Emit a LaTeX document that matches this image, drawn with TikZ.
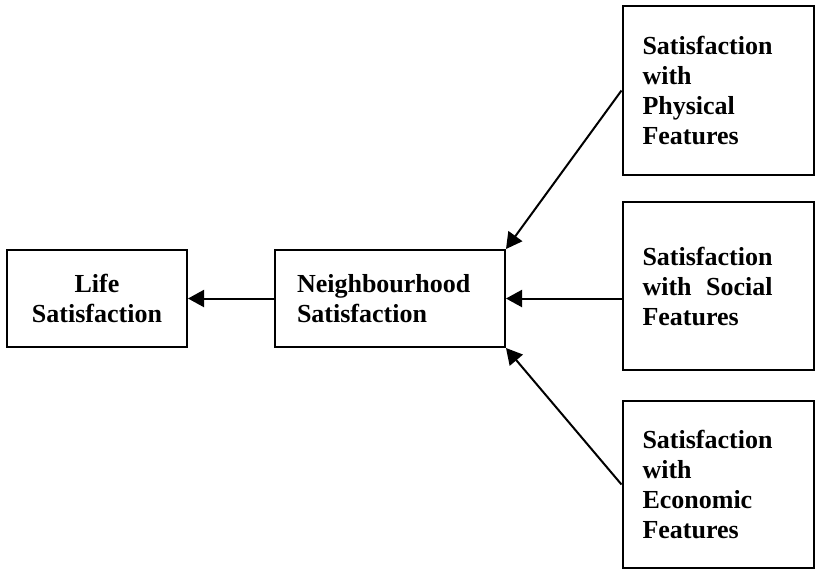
\documentclass[tikz,border=0pt]{standalone}
\usepackage{fontspec}
\setmainfont{Liberation Serif}
\usetikzlibrary{positioning}
\usetikzlibrary{arrows.meta}
\newlength{\satwd}
\tikzset{
    block/.style = {
        draw, rectangle, line width=1pt, align=left,
        font=\bfseries\fontsize{13}{15}\selectfont
    },
    smallblock/.style = {
        block, minimum width=90pt, minimum height=48.5pt
    },
    factor/.style = {
        block, inner xsep=10pt, text width=75.5pt, minimum height=84pt
    },
    link/.style = {
        line width=1pt, -{Triangle[width=8.5pt,length=8pt]}
    },
}
\begin{document}
\begin{tikzpicture}[x=0.5pt, y=-0.5pt]
        \useasboundingbox (0,0) rectangle (815,570);

        % Place the blocks
        \node[smallblock, align=center] (life) at (97,298.5) {Life\\Satisfaction};
        \node[smallblock, inner xsep=11pt, text width=93pt] (neigh) at (390,298.5) {Neighbourhood\\Satisfaction};
        \node[factor, minimum height=84.5pt] (phys) at (718,90.5) {Satisfaction\\with\\Physical\\Features};
        \node[factor] (soc) at (718,286)
            {Satisfaction\\\settowidth{\satwd}{Satisfaction}\makebox[\satwd][l]{with\hfill Social}\\Features};
        \node[factor, minimum height=83.5pt] (econ) at (718,484.5) {Satisfaction\\with\\Economic\\Features};

        % Draw connections
        \draw[link] (neigh.west) -- (life.east);
        \draw[link] (phys.west) -- (neigh.north east);
        \draw[link] (soc.west |- neigh.east) -- (neigh.east);
        \draw[link] (econ.west) -- (neigh.south east);
    \end{tikzpicture}
\end{document}
